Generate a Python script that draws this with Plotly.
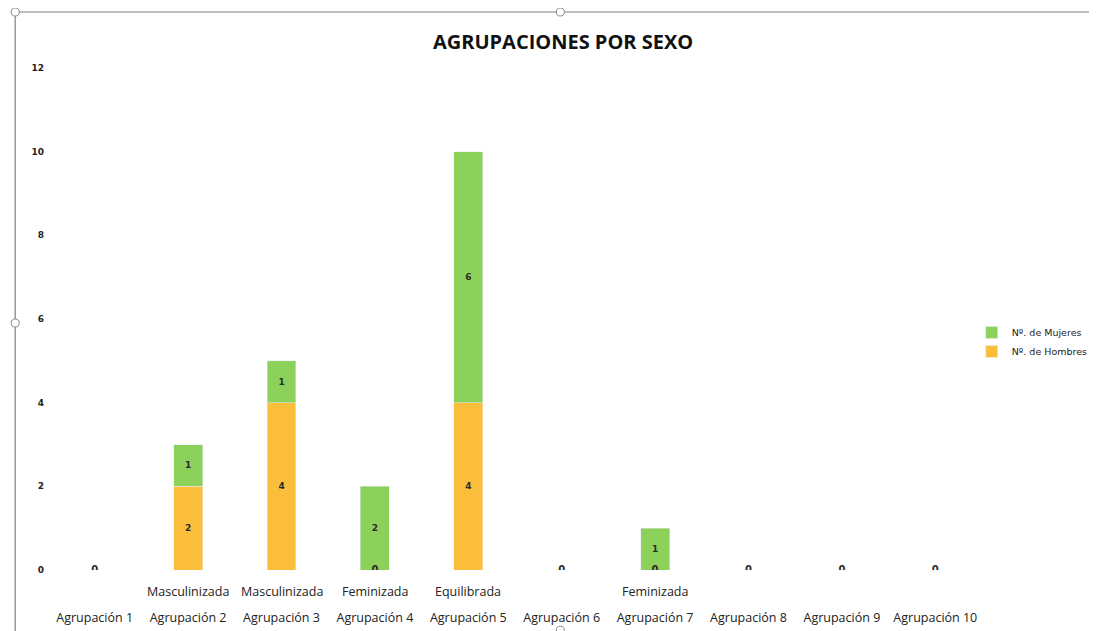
import plotly.graph_objects as go

categories = [f"Agrupación {i}" for i in range(1, 11)]
clasificacion = ["", "Masculinizada", "Masculinizada", "Feminizada", "Equilibrada",
                 "", "Feminizada", "", "", ""]
hombres = [0, 2, 4, 0, 4, 0, 0, 0, 0, 0]
mujeres = [0, 1, 1, 2, 6, 0, 1, 0, 0, 0]
yticks = [0, 2, 4, 6, 8, 10, 12]

ORANGE = "#FBBE3A"
GREEN = "#8CD15A"
TXT = "#2b2b2b"

fig = go.Figure()
fig.add_trace(go.Bar(
    x=categories, y=hombres, name="Nº. de Hombres", marker_color=ORANGE,
    text=[str(v) if v else "" for v in hombres], textposition="inside",
    insidetextanchor="middle",
    textfont=dict(size=9, color=TXT, family="DejaVu Sans", weight="bold"),
    width=0.31,
))
fig.add_trace(go.Bar(
    x=categories, y=mujeres, name="Nº. de Mujeres", marker_color=GREEN,
    text=[str(v) if v else "" for v in mujeres], textposition="inside",
    insidetextanchor="middle",
    textfont=dict(size=9, color=TXT, family="DejaVu Sans", weight="bold"),
    width=0.31,
))
# zero labels at the base
zx = [c for c, h in zip(categories, hombres) if h == 0]
fig.add_trace(go.Scatter(
    x=zx, y=[0] * len(zx), mode="text", text=["0"] * len(zx),
    textposition="middle center", showlegend=False, hoverinfo="skip",
    textfont=dict(size=10, color=TXT, family="DejaVu Sans", weight="bold"),
))

for c, lab in zip(categories, clasificacion):
    if lab:
        fig.add_annotation(x=c, y=0, xref="x", yref="y", text=lab, showarrow=False,
                           yshift=-21, font=dict(size=12.5, color="#222", family="Open Sans"))

fig.update_layout(
    width=1097, height=631,
    paper_bgcolor="white", plot_bgcolor="white",
    barmode="stack",
    margin=dict(l=40, r=118, t=60, b=69),
    title=dict(text="<b>AGRUPACIONES POR SEXO</b>", x=0.506, xanchor="center",
               y=0.946, yanchor="middle",
               font=dict(size=20, color="#111", family="Open Sans")),
    legend=dict(x=0.989, y=0.454, xanchor="left", yanchor="middle",
                traceorder="reversed",
                font=dict(size=9.5, color="#222", family="DejaVu Sans"),
                itemwidth=30, tracegroupgap=0, bgcolor="rgba(0,0,0,0)"),
    font=dict(family="Open Sans"),
)
fig.update_xaxes(showgrid=False, showline=False, zeroline=False, ticks="",
                 automargin=False, ticklabelstandoff=38,
                 tickfont=dict(size=12.5, color="#222", family="Open Sans"))
fig.update_yaxes(range=[0, 12], tickvals=yticks, showgrid=False, showline=False,
                 zeroline=False, ticks="", automargin=False, ticklabelstandoff=3,
                 tickfont=dict(size=9, color="#222", family="DejaVu Sans", weight="bold"))

# frame decorations (from the captured chart border)
fig.add_shape(type="line", xref="paper", yref="paper", x0=-0.0351, x1=1.12, y0=1.1116, y1=1.1116,
              line=dict(color="#aaaaaa", width=1.5), layer="below")
fig.add_shape(type="line", xref="paper", yref="paper", x0=-0.0351, x1=-0.0351, y0=-0.13, y1=1.1116,
              line=dict(color="#999999", width=1.5), layer="below")
for px, py in [(-0.0351, 1.1116), (0.5485, 1.1116), (-0.0351, 0.492), (0.5485, -0.12)]:
    fig.add_shape(type="circle", xref="paper", yref="paper",
                  x0=px - 0.0043, x1=px + 0.0043, y0=py - 0.008, y1=py + 0.008,
                  line=dict(color="#888888", width=1), fillcolor="white")

fig.write_html("out.html", config={"responsive": False})
